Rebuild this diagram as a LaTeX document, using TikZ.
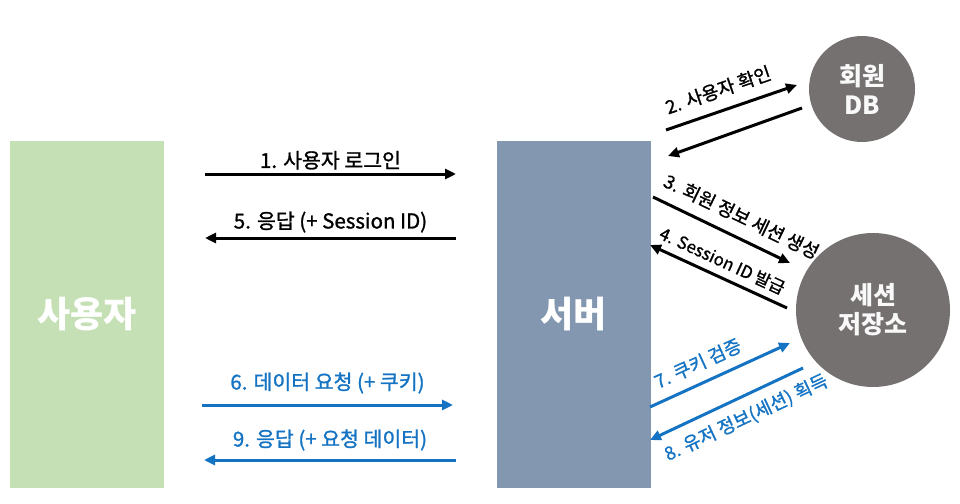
\documentclass[tikz,border=0pt]{standalone}
\usepackage{fontspec}
\setmainfont{Noto Sans CJK KR}
\newfontfamily\lblfont{Noto Sans CJK KR}[FakeBold=1.2]
\usepackage{tikz}
\usetikzlibrary{arrows.meta}

\definecolor{usergreen}{RGB}{197,224,180}
\definecolor{serverblue}{RGB}{132,151,176}
\definecolor{storegray}{RGB}{118,113,113}
\definecolor{flowblue}{RGB}{20,115,195}

\tikzset{
  box/.style={minimum width=154pt, minimum height=347pt, inner sep=0pt,
    text=white, font=\fontsize{36}{40}\selectfont\bfseries},
  store/.style={circle, fill=storegray, inner sep=0pt, text=white!95!gray,
    align=center, font=\fontsize{25}{29}\selectfont\bfseries},
  flow/.style={line width=3pt, -{Triangle[length=11pt,width=10pt]}},
  lbl/.style={font=\fontsize{20.5}{23}\lblfont, inner sep=2pt},
  slbl/.style={font=\fontsize{18.5}{21}\lblfont, inner sep=2pt, sloped}
}

\begin{document}
\begin{tikzpicture}[x=1pt,y=-1pt]

\useasboundingbox (0,0) rectangle (960,503);

% Blocos principais
\node[box, fill=usergreen] (user) at (87,314.5) {사용자};
\node[box, fill=serverblue] (server) at (573.5,314.5) {서버};

% Circulos
\node[store, minimum size=106pt] (memberdb) at (862,89) {회원\\DB};
\node[store, minimum size=154pt] (sessionstore) at (873,310) {세션\\저장소};

% Pontas das setas
\coordinate (login1) at (205,174);   \coordinate (login2) at (456,174);
\coordinate (resp1) at (456,238);    \coordinate (resp2) at (205,238);
\coordinate (req1) at (202,405);     \coordinate (req2) at (453,405);
\coordinate (data1) at (456,460);    \coordinate (data2) at (204,460);
\coordinate (chk1) at (666,130);     \coordinate (chk2) at (797,85);
\coordinate (chk3) at (802,108);     \coordinate (chk4) at (668,156);
\coordinate (make1) at (653,197);    \coordinate (make2) at (790,263);
\coordinate (give1) at (787,308);    \coordinate (give2) at (650,245);
\coordinate (ver1) at (650,407);     \coordinate (ver2) at (790,343);
\coordinate (get1) at (803,368);     \coordinate (get2) at (650,440);

% Usuario <-> servidor
\draw[flow] (login1) -- node[lbl, above=1pt] {1. 사용자 로그인} (login2);
\draw[flow] (resp1) -- node[lbl, above=2pt] {5. 응답 (+ Session ID)} (resp2);
\draw[flow, flowblue] (req1) -- node[lbl, above=8pt, text=flowblue] {6. 데이터 요청 (+ 쿠키)} (req2);
\draw[flow, flowblue] (data1) -- node[lbl, above=6pt, text=flowblue] {9. 응답 (+ 요청 데이터)} (data2);

% Servidor <-> DB
\draw[flow] (chk1) -- node[slbl, above=9pt, pos=0.45] {2. 사용자 확인} (chk2);
\draw[flow] (chk3) -- (chk4);

% Servidor <-> sessao
\draw[flow] (make1) -- node[slbl, above=9pt, pos=0.58] {3. 회원 정보 세션 생성} (make2);
\draw[flow] (give1) -- node[slbl, above=5pt, pos=0.52, font=\fontsize{17}{20}\lblfont] {4. Session ID 발급} (give2);
\draw[flow, flowblue] (ver1) -- node[slbl, above=8pt, pos=0.4, text=flowblue] {7. 쿠키 검증} (ver2);
\draw[flow, flowblue] (get1) -- node[slbl, below=8pt, pos=0.43, text=flowblue] {8. 유저 정보(세션) 획득} (get2);

\end{tikzpicture}
\end{document}
